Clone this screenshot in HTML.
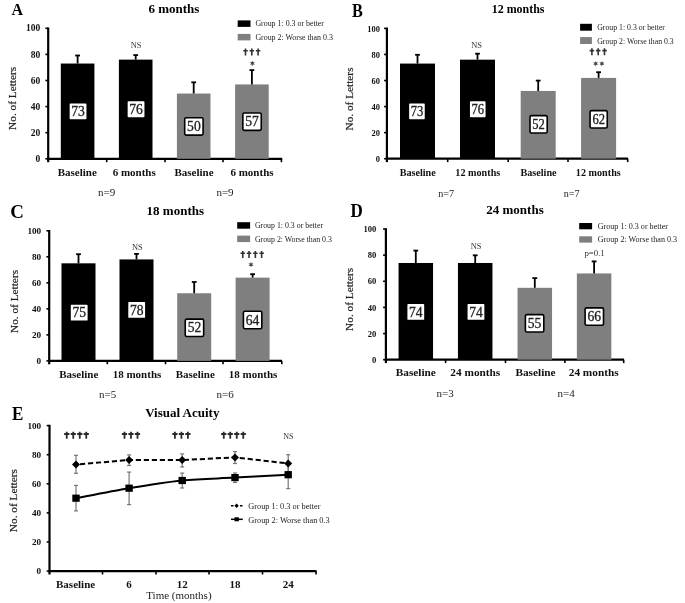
<!DOCTYPE html>
<html><head><meta charset="utf-8"><style>
html,body{margin:0;padding:0;background:#fff;}
svg{display:block;font-family:"Liberation Serif", serif;filter:grayscale(1);}
</style></head><body>
<svg width="685" height="603" viewBox="0 0 685 603">
<rect width="685" height="603" fill="#fff"/>
<text transform="translate(11.40,14.80) scale(0.94,1)" font-size="17" font-weight="bold" text-anchor="start" fill="#000" >A</text>
<text x="173.90" y="13.00" font-size="13" font-weight="bold" text-anchor="middle" fill="#000" >6 months</text>
<rect x="237.70" y="20.40" width="12.80" height="6.50" fill="#000" />
<rect x="237.70" y="33.90" width="12.80" height="6.50" fill="#7f7f7f" />
<text x="255.40" y="26.40" font-size="7.9" font-weight="normal" text-anchor="start" fill="#222" >Group 1: 0.3 or better</text>
<text x="255.40" y="39.90" font-size="7.9" font-weight="normal" text-anchor="start" fill="#222" >Group 2: Worse than 0.3</text>
<line x1="48.20" y1="27.50" x2="48.20" y2="162.20" stroke="#000" stroke-width="2.2" />
<line x1="47.20" y1="158.80" x2="282.20" y2="158.80" stroke="#000" stroke-width="2.2" />
<line x1="45.40" y1="158.80" x2="48.20" y2="158.80" stroke="#000" stroke-width="1.6" />
<text x="40.30" y="161.90" font-size="9.5" font-weight="bold" text-anchor="end" fill="#111" >0</text>
<line x1="45.40" y1="132.70" x2="48.20" y2="132.70" stroke="#000" stroke-width="1.6" />
<text x="40.30" y="135.80" font-size="9.5" font-weight="bold" text-anchor="end" fill="#111" >20</text>
<line x1="45.40" y1="106.60" x2="48.20" y2="106.60" stroke="#000" stroke-width="1.6" />
<text x="40.30" y="109.70" font-size="9.5" font-weight="bold" text-anchor="end" fill="#111" >40</text>
<line x1="45.40" y1="80.50" x2="48.20" y2="80.50" stroke="#000" stroke-width="1.6" />
<text x="40.30" y="83.60" font-size="9.5" font-weight="bold" text-anchor="end" fill="#111" >60</text>
<line x1="45.40" y1="54.40" x2="48.20" y2="54.40" stroke="#000" stroke-width="1.6" />
<text x="40.30" y="57.50" font-size="9.5" font-weight="bold" text-anchor="end" fill="#111" >80</text>
<line x1="45.40" y1="28.30" x2="48.20" y2="28.30" stroke="#000" stroke-width="1.6" />
<text x="40.30" y="31.40" font-size="9.5" font-weight="bold" text-anchor="end" fill="#111" >100</text>
<line x1="106.70" y1="158.80" x2="106.70" y2="162.20" stroke="#000" stroke-width="1.6" />
<line x1="165.00" y1="158.80" x2="165.00" y2="162.20" stroke="#000" stroke-width="1.6" />
<line x1="223.00" y1="158.80" x2="223.00" y2="162.20" stroke="#000" stroke-width="1.6" />
<line x1="281.40" y1="158.80" x2="281.40" y2="162.20" stroke="#000" stroke-width="1.6" />
<text x="16.30" y="98.40" font-size="11.3" font-weight="normal" text-anchor="middle" fill="#222" stroke="#222" stroke-width="0.2" transform="rotate(-90 16.30 98.40)">No. of Letters</text>
<rect x="60.80" y="63.54" width="33.60" height="95.27" fill="#000" />
<line x1="77.60" y1="63.54" x2="77.60" y2="55.50" stroke="#000" stroke-width="1.8" />
<line x1="75.20" y1="55.50" x2="80.00" y2="55.50" stroke="#000" stroke-width="1.8" />
<rect x="118.90" y="59.62" width="33.60" height="99.18" fill="#000" />
<line x1="135.70" y1="59.62" x2="135.70" y2="55.10" stroke="#000" stroke-width="1.8" />
<line x1="133.30" y1="55.10" x2="138.10" y2="55.10" stroke="#000" stroke-width="1.8" />
<rect x="176.90" y="93.55" width="33.60" height="65.25" fill="#7f7f7f" />
<line x1="193.70" y1="93.55" x2="193.70" y2="82.30" stroke="#000" stroke-width="1.8" />
<line x1="191.30" y1="82.30" x2="196.10" y2="82.30" stroke="#000" stroke-width="1.8" />
<rect x="235.10" y="84.42" width="33.60" height="74.38" fill="#7f7f7f" />
<line x1="251.90" y1="84.42" x2="251.90" y2="70.10" stroke="#000" stroke-width="1.8" />
<line x1="249.50" y1="70.10" x2="254.30" y2="70.10" stroke="#000" stroke-width="1.8" />
<rect x="68.85" y="102.70" width="18.40" height="17.40" rx="1.5" fill="#fff" stroke="#000" stroke-width="1.6"/>
<text x="78.05" y="116.00" font-size="13.6" font-weight="normal" text-anchor="middle" fill="#222" stroke="#222" stroke-width="0.3" >73</text>
<rect x="126.85" y="100.55" width="18.40" height="17.40" rx="1.5" fill="#fff" stroke="#000" stroke-width="1.6"/>
<text x="136.05" y="113.85" font-size="13.6" font-weight="normal" text-anchor="middle" fill="#222" stroke="#222" stroke-width="0.3" >76</text>
<rect x="184.70" y="117.70" width="18.40" height="17.40" rx="1.5" fill="#fff" stroke="#000" stroke-width="1.6"/>
<text x="193.90" y="131.00" font-size="13.6" font-weight="normal" text-anchor="middle" fill="#222" stroke="#222" stroke-width="0.3" >50</text>
<rect x="242.85" y="112.95" width="18.40" height="17.40" rx="1.5" fill="#fff" stroke="#000" stroke-width="1.6"/>
<text x="252.05" y="126.25" font-size="13.6" font-weight="normal" text-anchor="middle" fill="#222" stroke="#222" stroke-width="0.3" >57</text>
<text x="77.30" y="176.00" font-size="11" font-weight="bold" text-anchor="middle" fill="#111" >Baseline</text>
<text x="134.20" y="176.00" font-size="11" font-weight="bold" text-anchor="middle" fill="#111" >6 months</text>
<text x="194.00" y="176.00" font-size="11" font-weight="bold" text-anchor="middle" fill="#111" >Baseline</text>
<text x="252.00" y="176.00" font-size="11" font-weight="bold" text-anchor="middle" fill="#111" >6 months</text>
<text x="106.70" y="196.00" font-size="11" font-weight="normal" text-anchor="middle" fill="#222" >n=9</text>
<text x="225.00" y="196.00" font-size="11" font-weight="normal" text-anchor="middle" fill="#222" >n=9</text>
<text x="136.10" y="48.00" font-size="8.4" font-weight="normal" text-anchor="middle" fill="#333" >NS</text>
<path d="M245.50,48.40 L245.50,55.40 M243.25,50.71 L247.75,50.71" stroke="#333" stroke-width="1.6" fill="none"/>
<path d="M251.80,48.40 L251.80,55.40 M249.55,50.71 L254.05,50.71" stroke="#333" stroke-width="1.6" fill="none"/>
<path d="M258.10,48.40 L258.10,55.40 M255.85,50.71 L260.35,50.71" stroke="#333" stroke-width="1.6" fill="none"/>
<polygon points="252.40,60.60 251.77,62.31 249.98,62.00 251.14,63.40 249.98,64.80 251.77,64.49 252.40,66.20 253.03,64.49 254.82,64.80 253.66,63.40 254.82,62.00 253.03,62.31" fill="#444"/>
<text transform="translate(351.90,16.60) scale(0.9,1)" font-size="18" font-weight="bold" text-anchor="start" fill="#000" >B</text>
<text transform="translate(518.10,13.00) scale(0.92,1)" font-size="13" font-weight="bold" text-anchor="middle" fill="#000" >12 months</text>
<rect x="580.10" y="23.80" width="11.80" height="6.90" fill="#000" />
<rect x="580.10" y="37.10" width="11.80" height="6.90" fill="#7f7f7f" />
<text x="597.20" y="30.20" font-size="7.8" font-weight="normal" text-anchor="start" fill="#222" >Group 1: 0.3 or better</text>
<text x="597.20" y="43.50" font-size="7.8" font-weight="normal" text-anchor="start" fill="#222" >Group 2: Worse than 0.3</text>
<line x1="386.90" y1="27.60" x2="386.90" y2="162.10" stroke="#000" stroke-width="2.2" />
<line x1="385.90" y1="158.70" x2="628.00" y2="158.70" stroke="#000" stroke-width="2.2" />
<line x1="384.10" y1="158.70" x2="386.90" y2="158.70" stroke="#000" stroke-width="1.6" />
<text transform="translate(379.90,161.80) scale(0.94,1)" font-size="9" font-weight="bold" text-anchor="end" fill="#111" >0</text>
<line x1="384.10" y1="132.64" x2="386.90" y2="132.64" stroke="#000" stroke-width="1.6" />
<text transform="translate(379.90,135.74) scale(0.94,1)" font-size="9" font-weight="bold" text-anchor="end" fill="#111" >20</text>
<line x1="384.10" y1="106.58" x2="386.90" y2="106.58" stroke="#000" stroke-width="1.6" />
<text transform="translate(379.90,109.68) scale(0.94,1)" font-size="9" font-weight="bold" text-anchor="end" fill="#111" >40</text>
<line x1="384.10" y1="80.52" x2="386.90" y2="80.52" stroke="#000" stroke-width="1.6" />
<text transform="translate(379.90,83.62) scale(0.94,1)" font-size="9" font-weight="bold" text-anchor="end" fill="#111" >60</text>
<line x1="384.10" y1="54.46" x2="386.90" y2="54.46" stroke="#000" stroke-width="1.6" />
<text transform="translate(379.90,57.56) scale(0.94,1)" font-size="9" font-weight="bold" text-anchor="end" fill="#111" >80</text>
<line x1="384.10" y1="28.40" x2="386.90" y2="28.40" stroke="#000" stroke-width="1.6" />
<text transform="translate(379.90,31.50) scale(0.94,1)" font-size="9" font-weight="bold" text-anchor="end" fill="#111" >100</text>
<line x1="447.70" y1="158.70" x2="447.70" y2="162.10" stroke="#000" stroke-width="1.6" />
<line x1="508.20" y1="158.70" x2="508.20" y2="162.10" stroke="#000" stroke-width="1.6" />
<line x1="568.00" y1="158.70" x2="568.00" y2="162.10" stroke="#000" stroke-width="1.6" />
<line x1="627.70" y1="158.70" x2="627.70" y2="162.10" stroke="#000" stroke-width="1.6" />
<text x="353.00" y="99.00" font-size="11.3" font-weight="normal" text-anchor="middle" fill="#222" stroke="#222" stroke-width="0.2" transform="rotate(-90 353.00 99.00)">No. of Letters</text>
<rect x="400.00" y="63.58" width="35.00" height="95.12" fill="#000" />
<line x1="417.50" y1="63.58" x2="417.50" y2="54.80" stroke="#000" stroke-width="1.8" />
<line x1="415.10" y1="54.80" x2="419.90" y2="54.80" stroke="#000" stroke-width="1.8" />
<rect x="460.00" y="59.67" width="35.00" height="99.03" fill="#000" />
<line x1="477.50" y1="59.67" x2="477.50" y2="53.70" stroke="#000" stroke-width="1.8" />
<line x1="475.10" y1="53.70" x2="479.90" y2="53.70" stroke="#000" stroke-width="1.8" />
<rect x="520.70" y="90.94" width="35.00" height="67.76" fill="#7f7f7f" />
<line x1="538.20" y1="90.94" x2="538.20" y2="80.60" stroke="#000" stroke-width="1.8" />
<line x1="535.80" y1="80.60" x2="540.60" y2="80.60" stroke="#000" stroke-width="1.8" />
<rect x="581.10" y="77.91" width="35.00" height="80.79" fill="#7f7f7f" />
<line x1="598.60" y1="77.91" x2="598.60" y2="72.20" stroke="#000" stroke-width="1.8" />
<line x1="596.20" y1="72.20" x2="601.00" y2="72.20" stroke="#000" stroke-width="1.8" />
<rect x="408.35" y="102.60" width="17.20" height="17.40" rx="1.5" fill="#fff" stroke="#000" stroke-width="1.6"/>
<text transform="translate(416.95,115.90) scale(0.925,1)" font-size="13.6" font-weight="normal" text-anchor="middle" fill="#222" stroke="#222" stroke-width="0.3" >73</text>
<rect x="469.15" y="100.55" width="17.20" height="17.40" rx="1.5" fill="#fff" stroke="#000" stroke-width="1.6"/>
<text transform="translate(477.75,113.85) scale(0.925,1)" font-size="13.6" font-weight="normal" text-anchor="middle" fill="#222" stroke="#222" stroke-width="0.3" >76</text>
<rect x="530.00" y="115.65" width="17.20" height="17.40" rx="1.5" fill="#fff" stroke="#000" stroke-width="1.6"/>
<text transform="translate(538.60,128.95) scale(0.925,1)" font-size="13.6" font-weight="normal" text-anchor="middle" fill="#222" stroke="#222" stroke-width="0.3" >52</text>
<rect x="590.05" y="110.65" width="17.20" height="17.40" rx="1.5" fill="#fff" stroke="#000" stroke-width="1.6"/>
<text transform="translate(598.65,123.95) scale(0.925,1)" font-size="13.6" font-weight="normal" text-anchor="middle" fill="#222" stroke="#222" stroke-width="0.3" >62</text>
<text transform="translate(417.70,176.40) scale(0.925,1)" font-size="11" font-weight="bold" text-anchor="middle" fill="#111" >Baseline</text>
<text transform="translate(477.80,176.40) scale(0.925,1)" font-size="11" font-weight="bold" text-anchor="middle" fill="#111" >12 months</text>
<text transform="translate(538.50,176.40) scale(0.925,1)" font-size="11" font-weight="bold" text-anchor="middle" fill="#111" >Baseline</text>
<text transform="translate(598.30,176.40) scale(0.925,1)" font-size="11" font-weight="bold" text-anchor="middle" fill="#111" >12 months</text>
<text transform="translate(446.10,197.20) scale(0.925,1)" font-size="11" font-weight="normal" text-anchor="middle" fill="#222" >n=7</text>
<text transform="translate(571.60,197.20) scale(0.925,1)" font-size="11" font-weight="normal" text-anchor="middle" fill="#222" >n=7</text>
<text x="476.60" y="48.40" font-size="8.4" font-weight="normal" text-anchor="middle" fill="#333" >NS</text>
<path d="M591.90,48.30 L591.90,55.30 M589.65,50.61 L594.15,50.61" stroke="#333" stroke-width="1.6" fill="none"/>
<path d="M598.20,48.30 L598.20,55.30 M595.95,50.61 L600.45,50.61" stroke="#333" stroke-width="1.6" fill="none"/>
<path d="M604.50,48.30 L604.50,55.30 M602.25,50.61 L606.75,50.61" stroke="#333" stroke-width="1.6" fill="none"/>
<polygon points="595.70,60.90 595.07,62.61 593.28,62.30 594.44,63.70 593.28,65.10 595.07,64.79 595.70,66.50 596.33,64.79 598.12,65.10 596.96,63.70 598.12,62.30 596.33,62.61" fill="#444"/>
<polygon points="601.90,60.90 601.27,62.61 599.48,62.30 600.64,63.70 599.48,65.10 601.27,64.79 601.90,66.50 602.53,64.79 604.32,65.10 603.16,63.70 604.32,62.30 602.53,62.61" fill="#444"/>
<text transform="translate(10.20,217.90) scale(1.02,1)" font-size="18.5" font-weight="bold" text-anchor="start" fill="#000" >C</text>
<text x="175.30" y="215.30" font-size="13" font-weight="bold" text-anchor="middle" fill="#000" >18 months</text>
<rect x="237.20" y="222.20" width="12.90" height="6.50" fill="#000" />
<rect x="237.20" y="235.60" width="12.90" height="6.50" fill="#7f7f7f" />
<text x="254.90" y="228.20" font-size="7.85" font-weight="normal" text-anchor="start" fill="#222" >Group 1: 0.3 or better</text>
<text x="254.90" y="241.60" font-size="7.85" font-weight="normal" text-anchor="start" fill="#222" >Group 2: Worse than 0.3</text>
<line x1="49.20" y1="230.00" x2="49.20" y2="364.30" stroke="#000" stroke-width="2.2" />
<line x1="48.20" y1="360.90" x2="282.00" y2="360.90" stroke="#000" stroke-width="2.2" />
<line x1="46.40" y1="360.90" x2="49.20" y2="360.90" stroke="#000" stroke-width="1.6" />
<text x="41.20" y="364.00" font-size="9.2" font-weight="bold" text-anchor="end" fill="#111" >0</text>
<line x1="46.40" y1="334.88" x2="49.20" y2="334.88" stroke="#000" stroke-width="1.6" />
<text x="41.20" y="337.98" font-size="9.2" font-weight="bold" text-anchor="end" fill="#111" >20</text>
<line x1="46.40" y1="308.86" x2="49.20" y2="308.86" stroke="#000" stroke-width="1.6" />
<text x="41.20" y="311.96" font-size="9.2" font-weight="bold" text-anchor="end" fill="#111" >40</text>
<line x1="46.40" y1="282.84" x2="49.20" y2="282.84" stroke="#000" stroke-width="1.6" />
<text x="41.20" y="285.94" font-size="9.2" font-weight="bold" text-anchor="end" fill="#111" >60</text>
<line x1="46.40" y1="256.82" x2="49.20" y2="256.82" stroke="#000" stroke-width="1.6" />
<text x="41.20" y="259.92" font-size="9.2" font-weight="bold" text-anchor="end" fill="#111" >80</text>
<line x1="46.40" y1="230.80" x2="49.20" y2="230.80" stroke="#000" stroke-width="1.6" />
<text x="41.20" y="233.90" font-size="9.2" font-weight="bold" text-anchor="end" fill="#111" >100</text>
<line x1="107.30" y1="360.90" x2="107.30" y2="364.30" stroke="#000" stroke-width="1.6" />
<line x1="165.50" y1="360.90" x2="165.50" y2="364.30" stroke="#000" stroke-width="1.6" />
<line x1="223.00" y1="360.90" x2="223.00" y2="364.30" stroke="#000" stroke-width="1.6" />
<line x1="281.80" y1="360.90" x2="281.80" y2="364.30" stroke="#000" stroke-width="1.6" />
<text x="17.80" y="301.50" font-size="11.3" font-weight="normal" text-anchor="middle" fill="#222" stroke="#222" stroke-width="0.2" transform="rotate(-90 17.80 301.50)">No. of Letters</text>
<rect x="61.50" y="263.32" width="34.00" height="97.57" fill="#000" />
<line x1="78.50" y1="263.32" x2="78.50" y2="254.20" stroke="#000" stroke-width="1.8" />
<line x1="76.10" y1="254.20" x2="80.90" y2="254.20" stroke="#000" stroke-width="1.8" />
<rect x="119.50" y="259.42" width="34.00" height="101.48" fill="#000" />
<line x1="136.50" y1="259.42" x2="136.50" y2="253.90" stroke="#000" stroke-width="1.8" />
<line x1="134.10" y1="253.90" x2="138.90" y2="253.90" stroke="#000" stroke-width="1.8" />
<rect x="177.20" y="293.25" width="34.00" height="67.65" fill="#7f7f7f" />
<line x1="194.20" y1="293.25" x2="194.20" y2="282.00" stroke="#000" stroke-width="1.8" />
<line x1="191.80" y1="282.00" x2="196.60" y2="282.00" stroke="#000" stroke-width="1.8" />
<rect x="235.60" y="277.64" width="34.00" height="83.26" fill="#7f7f7f" />
<line x1="252.60" y1="277.64" x2="252.60" y2="274.20" stroke="#000" stroke-width="1.8" />
<line x1="250.20" y1="274.20" x2="255.00" y2="274.20" stroke="#000" stroke-width="1.8" />
<rect x="70.00" y="304.00" width="18.40" height="17.40" rx="1.5" fill="#fff" stroke="#000" stroke-width="1.6"/>
<text x="79.20" y="317.30" font-size="13.6" font-weight="normal" text-anchor="middle" fill="#222" stroke="#222" stroke-width="0.3" >75</text>
<rect x="127.50" y="301.25" width="18.40" height="17.40" rx="1.5" fill="#fff" stroke="#000" stroke-width="1.6"/>
<text x="136.70" y="314.55" font-size="13.6" font-weight="normal" text-anchor="middle" fill="#222" stroke="#222" stroke-width="0.3" >78</text>
<rect x="185.25" y="319.15" width="18.40" height="17.40" rx="1.5" fill="#fff" stroke="#000" stroke-width="1.6"/>
<text x="194.45" y="332.45" font-size="13.6" font-weight="normal" text-anchor="middle" fill="#222" stroke="#222" stroke-width="0.3" >52</text>
<rect x="243.40" y="311.30" width="18.40" height="17.40" rx="1.5" fill="#fff" stroke="#000" stroke-width="1.6"/>
<text x="252.60" y="324.60" font-size="13.6" font-weight="normal" text-anchor="middle" fill="#222" stroke="#222" stroke-width="0.3" >64</text>
<text x="78.80" y="378.10" font-size="11" font-weight="bold" text-anchor="middle" fill="#111" >Baseline</text>
<text x="137.00" y="378.10" font-size="11" font-weight="bold" text-anchor="middle" fill="#111" >18 months</text>
<text x="195.30" y="378.10" font-size="11" font-weight="bold" text-anchor="middle" fill="#111" >Baseline</text>
<text x="253.10" y="378.10" font-size="11" font-weight="bold" text-anchor="middle" fill="#111" >18 months</text>
<text x="107.60" y="398.40" font-size="11" font-weight="normal" text-anchor="middle" fill="#222" >n=5</text>
<text x="225.20" y="398.40" font-size="11" font-weight="normal" text-anchor="middle" fill="#222" >n=6</text>
<text x="137.30" y="250.20" font-size="8.4" font-weight="normal" text-anchor="middle" fill="#333" >NS</text>
<path d="M242.75,251.00 L242.75,258.00 M240.50,253.31 L245.00,253.31" stroke="#333" stroke-width="1.6" fill="none"/>
<path d="M249.05,251.00 L249.05,258.00 M246.80,253.31 L251.30,253.31" stroke="#333" stroke-width="1.6" fill="none"/>
<path d="M255.35,251.00 L255.35,258.00 M253.10,253.31 L257.60,253.31" stroke="#333" stroke-width="1.6" fill="none"/>
<path d="M261.65,251.00 L261.65,258.00 M259.40,253.31 L263.90,253.31" stroke="#333" stroke-width="1.6" fill="none"/>
<polygon points="251.00,261.80 250.37,263.51 248.58,263.20 249.74,264.60 248.58,266.00 250.37,265.69 251.00,267.40 251.63,265.69 253.42,266.00 252.26,264.60 253.42,263.20 251.63,263.51" fill="#444"/>
<text transform="translate(350.60,216.50) scale(0.95,1)" font-size="18" font-weight="bold" text-anchor="start" fill="#000" >D</text>
<text x="515.00" y="213.80" font-size="13" font-weight="bold" text-anchor="middle" fill="#000" >24 months</text>
<rect x="579.20" y="223.00" width="12.90" height="6.30" fill="#000" />
<rect x="579.20" y="236.30" width="12.90" height="6.30" fill="#7f7f7f" />
<text x="597.70" y="228.80" font-size="8.1" font-weight="normal" text-anchor="start" fill="#222" >Group 1: 0.3 or better</text>
<text x="597.70" y="242.10" font-size="8.1" font-weight="normal" text-anchor="start" fill="#222" >Group 2: Worse than 0.3</text>
<line x1="385.90" y1="228.20" x2="385.90" y2="363.10" stroke="#000" stroke-width="2.2" />
<line x1="384.90" y1="359.70" x2="624.00" y2="359.70" stroke="#000" stroke-width="2.2" />
<line x1="383.10" y1="359.70" x2="385.90" y2="359.70" stroke="#000" stroke-width="1.6" />
<text x="376.30" y="362.80" font-size="8.6" font-weight="bold" text-anchor="end" fill="#111" >0</text>
<line x1="383.10" y1="333.56" x2="385.90" y2="333.56" stroke="#000" stroke-width="1.6" />
<text x="376.30" y="336.66" font-size="8.6" font-weight="bold" text-anchor="end" fill="#111" >20</text>
<line x1="383.10" y1="307.42" x2="385.90" y2="307.42" stroke="#000" stroke-width="1.6" />
<text x="376.30" y="310.52" font-size="8.6" font-weight="bold" text-anchor="end" fill="#111" >40</text>
<line x1="383.10" y1="281.28" x2="385.90" y2="281.28" stroke="#000" stroke-width="1.6" />
<text x="376.30" y="284.38" font-size="8.6" font-weight="bold" text-anchor="end" fill="#111" >60</text>
<line x1="383.10" y1="255.14" x2="385.90" y2="255.14" stroke="#000" stroke-width="1.6" />
<text x="376.30" y="258.24" font-size="8.6" font-weight="bold" text-anchor="end" fill="#111" >80</text>
<line x1="383.10" y1="229.00" x2="385.90" y2="229.00" stroke="#000" stroke-width="1.6" />
<text x="376.30" y="232.10" font-size="8.6" font-weight="bold" text-anchor="end" fill="#111" >100</text>
<line x1="445.60" y1="359.70" x2="445.60" y2="363.10" stroke="#000" stroke-width="1.6" />
<line x1="505.50" y1="359.70" x2="505.50" y2="363.10" stroke="#000" stroke-width="1.6" />
<line x1="564.90" y1="359.70" x2="564.90" y2="363.10" stroke="#000" stroke-width="1.6" />
<line x1="623.70" y1="359.70" x2="623.70" y2="363.10" stroke="#000" stroke-width="1.6" />
<text x="353.50" y="299.40" font-size="11.3" font-weight="normal" text-anchor="middle" fill="#222" stroke="#222" stroke-width="0.2" transform="rotate(-90 353.50 299.40)">No. of Letters</text>
<rect x="398.55" y="262.98" width="34.50" height="96.72" fill="#000" />
<line x1="415.80" y1="262.98" x2="415.80" y2="250.60" stroke="#000" stroke-width="1.8" />
<line x1="413.40" y1="250.60" x2="418.20" y2="250.60" stroke="#000" stroke-width="1.8" />
<rect x="457.95" y="262.98" width="34.50" height="96.72" fill="#000" />
<line x1="475.20" y1="262.98" x2="475.20" y2="255.30" stroke="#000" stroke-width="1.8" />
<line x1="472.80" y1="255.30" x2="477.60" y2="255.30" stroke="#000" stroke-width="1.8" />
<rect x="517.55" y="287.81" width="34.50" height="71.88" fill="#7f7f7f" />
<line x1="534.80" y1="287.81" x2="534.80" y2="278.10" stroke="#000" stroke-width="1.8" />
<line x1="532.40" y1="278.10" x2="537.20" y2="278.10" stroke="#000" stroke-width="1.8" />
<rect x="576.85" y="273.44" width="34.50" height="86.26" fill="#7f7f7f" />
<line x1="594.10" y1="273.44" x2="594.10" y2="261.40" stroke="#000" stroke-width="1.8" />
<line x1="591.70" y1="261.40" x2="596.50" y2="261.40" stroke="#000" stroke-width="1.8" />
<rect x="406.60" y="303.25" width="18.40" height="17.40" rx="1.5" fill="#fff" stroke="#000" stroke-width="1.6"/>
<text x="415.80" y="316.55" font-size="13.6" font-weight="normal" text-anchor="middle" fill="#222" stroke="#222" stroke-width="0.3" >74</text>
<rect x="466.75" y="303.25" width="18.40" height="17.40" rx="1.5" fill="#fff" stroke="#000" stroke-width="1.6"/>
<text x="475.95" y="316.55" font-size="13.6" font-weight="normal" text-anchor="middle" fill="#222" stroke="#222" stroke-width="0.3" >74</text>
<rect x="525.40" y="314.65" width="18.40" height="17.40" rx="1.5" fill="#fff" stroke="#000" stroke-width="1.6"/>
<text x="534.60" y="327.95" font-size="13.6" font-weight="normal" text-anchor="middle" fill="#222" stroke="#222" stroke-width="0.3" >55</text>
<rect x="585.10" y="307.85" width="18.40" height="17.40" rx="1.5" fill="#fff" stroke="#000" stroke-width="1.6"/>
<text x="594.30" y="321.15" font-size="13.6" font-weight="normal" text-anchor="middle" fill="#222" stroke="#222" stroke-width="0.3" >66</text>
<text x="415.80" y="376.10" font-size="11.3" font-weight="bold" text-anchor="middle" fill="#111" >Baseline</text>
<text x="475.30" y="376.10" font-size="11.3" font-weight="bold" text-anchor="middle" fill="#111" >24 months</text>
<text x="535.50" y="376.10" font-size="11.3" font-weight="bold" text-anchor="middle" fill="#111" >Baseline</text>
<text x="593.70" y="376.10" font-size="11.3" font-weight="bold" text-anchor="middle" fill="#111" >24 months</text>
<text x="445.10" y="397.00" font-size="11" font-weight="normal" text-anchor="middle" fill="#222" >n=3</text>
<text x="566.10" y="397.00" font-size="11" font-weight="normal" text-anchor="middle" fill="#222" >n=4</text>
<text x="476.00" y="248.60" font-size="8.4" font-weight="normal" text-anchor="middle" fill="#333" >NS</text>
<text x="594.60" y="256.30" font-size="8.8" font-weight="normal" text-anchor="middle" fill="#333" >p=0.1</text>
<text transform="translate(11.90,419.50) scale(0.93,1)" font-size="18.4" font-weight="bold" text-anchor="start" fill="#000" >E</text>
<text x="182.30" y="417.40" font-size="13" font-weight="bold" text-anchor="middle" fill="#000" >Visual Acuity</text>
<line x1="49.50" y1="424.80" x2="49.50" y2="574.50" stroke="#000" stroke-width="2.2" />
<line x1="48.50" y1="571.10" x2="316.50" y2="571.10" stroke="#000" stroke-width="2.2" />
<line x1="46.70" y1="571.10" x2="49.50" y2="571.10" stroke="#000" stroke-width="1.6" />
<text x="41.20" y="574.20" font-size="9.2" font-weight="bold" text-anchor="end" fill="#111" >0</text>
<line x1="46.70" y1="542.00" x2="49.50" y2="542.00" stroke="#000" stroke-width="1.6" />
<text x="41.20" y="545.10" font-size="9.2" font-weight="bold" text-anchor="end" fill="#111" >20</text>
<line x1="46.70" y1="512.90" x2="49.50" y2="512.90" stroke="#000" stroke-width="1.6" />
<text x="41.20" y="516.00" font-size="9.2" font-weight="bold" text-anchor="end" fill="#111" >40</text>
<line x1="46.70" y1="483.80" x2="49.50" y2="483.80" stroke="#000" stroke-width="1.6" />
<text x="41.20" y="486.90" font-size="9.2" font-weight="bold" text-anchor="end" fill="#111" >60</text>
<line x1="46.70" y1="454.70" x2="49.50" y2="454.70" stroke="#000" stroke-width="1.6" />
<text x="41.20" y="457.80" font-size="9.2" font-weight="bold" text-anchor="end" fill="#111" >80</text>
<line x1="46.70" y1="425.60" x2="49.50" y2="425.60" stroke="#000" stroke-width="1.6" />
<text x="41.20" y="428.70" font-size="9.2" font-weight="bold" text-anchor="end" fill="#111" >100</text>
<line x1="102.50" y1="571.10" x2="102.50" y2="574.50" stroke="#000" stroke-width="1.6" />
<line x1="156.00" y1="571.10" x2="156.00" y2="574.50" stroke="#000" stroke-width="1.6" />
<line x1="209.00" y1="571.10" x2="209.00" y2="574.50" stroke="#000" stroke-width="1.6" />
<line x1="262.50" y1="571.10" x2="262.50" y2="574.50" stroke="#000" stroke-width="1.6" />
<line x1="316.00" y1="571.10" x2="316.00" y2="574.50" stroke="#000" stroke-width="1.6" />
<text x="17.50" y="500.60" font-size="11.3" font-weight="normal" text-anchor="middle" fill="#222" stroke="#222" stroke-width="0.2" transform="rotate(-90 17.5 500.6)">No. of Letters</text>
<line x1="76.00" y1="455.30" x2="76.00" y2="473.30" stroke="#777" stroke-width="1.2" />
<line x1="74.00" y1="455.30" x2="78.00" y2="455.30" stroke="#777" stroke-width="1.2" />
<line x1="74.00" y1="473.30" x2="78.00" y2="473.30" stroke="#777" stroke-width="1.2" />
<line x1="129.10" y1="454.90" x2="129.10" y2="465.50" stroke="#777" stroke-width="1.2" />
<line x1="127.10" y1="454.90" x2="131.10" y2="454.90" stroke="#777" stroke-width="1.2" />
<line x1="127.10" y1="465.50" x2="131.10" y2="465.50" stroke="#777" stroke-width="1.2" />
<line x1="182.20" y1="453.90" x2="182.20" y2="467.00" stroke="#777" stroke-width="1.2" />
<line x1="180.20" y1="453.90" x2="184.20" y2="453.90" stroke="#777" stroke-width="1.2" />
<line x1="180.20" y1="467.00" x2="184.20" y2="467.00" stroke="#777" stroke-width="1.2" />
<line x1="235.00" y1="451.60" x2="235.00" y2="463.50" stroke="#777" stroke-width="1.2" />
<line x1="233.00" y1="451.60" x2="237.00" y2="451.60" stroke="#777" stroke-width="1.2" />
<line x1="233.00" y1="463.50" x2="237.00" y2="463.50" stroke="#777" stroke-width="1.2" />
<line x1="288.20" y1="454.70" x2="288.20" y2="472.00" stroke="#777" stroke-width="1.2" />
<line x1="286.20" y1="454.70" x2="290.20" y2="454.70" stroke="#777" stroke-width="1.2" />
<line x1="286.20" y1="472.00" x2="290.20" y2="472.00" stroke="#777" stroke-width="1.2" />
<line x1="76.00" y1="485.40" x2="76.00" y2="510.90" stroke="#777" stroke-width="1.2" />
<line x1="74.00" y1="485.40" x2="78.00" y2="485.40" stroke="#777" stroke-width="1.2" />
<line x1="74.00" y1="510.90" x2="78.00" y2="510.90" stroke="#777" stroke-width="1.2" />
<line x1="129.10" y1="472.10" x2="129.10" y2="504.60" stroke="#777" stroke-width="1.2" />
<line x1="127.10" y1="472.10" x2="131.10" y2="472.10" stroke="#777" stroke-width="1.2" />
<line x1="127.10" y1="504.60" x2="131.10" y2="504.60" stroke="#777" stroke-width="1.2" />
<line x1="182.20" y1="473.10" x2="182.20" y2="488.00" stroke="#777" stroke-width="1.2" />
<line x1="180.20" y1="473.10" x2="184.20" y2="473.10" stroke="#777" stroke-width="1.2" />
<line x1="180.20" y1="488.00" x2="184.20" y2="488.00" stroke="#777" stroke-width="1.2" />
<line x1="235.00" y1="473.00" x2="235.00" y2="482.50" stroke="#777" stroke-width="1.2" />
<line x1="233.00" y1="473.00" x2="237.00" y2="473.00" stroke="#777" stroke-width="1.2" />
<line x1="233.00" y1="482.50" x2="237.00" y2="482.50" stroke="#777" stroke-width="1.2" />
<line x1="288.20" y1="462.00" x2="288.20" y2="488.60" stroke="#777" stroke-width="1.2" />
<line x1="286.20" y1="462.00" x2="290.20" y2="462.00" stroke="#777" stroke-width="1.2" />
<line x1="286.20" y1="488.60" x2="290.20" y2="488.60" stroke="#777" stroke-width="1.2" />
<polyline points="76.0,464.5 129.1,460.0 182.2,460.0 235.0,457.4 288.2,463.5" fill="none" stroke="#000" stroke-width="2" stroke-dasharray="5.2,2.8" stroke-dashoffset="-4"/>
<path d="M76.00,498.20 C84.85,496.53 111.40,491.15 129.10,488.20 C146.80,485.25 164.55,482.27 182.20,480.50 C199.85,478.73 217.33,478.57 235.00,477.60 C252.67,476.63 279.33,475.18 288.20,474.70" fill="none" stroke="#000" stroke-width="2"/>
<path d="M76.00,460.50 L80.00,464.50 L76.00,468.50 L72.00,464.50Z" fill="#000"/>
<path d="M129.10,456.00 L133.10,460.00 L129.10,464.00 L125.10,460.00Z" fill="#000"/>
<path d="M182.20,456.00 L186.20,460.00 L182.20,464.00 L178.20,460.00Z" fill="#000"/>
<path d="M235.00,453.40 L239.00,457.40 L235.00,461.40 L231.00,457.40Z" fill="#000"/>
<path d="M288.20,459.50 L292.20,463.50 L288.20,467.50 L284.20,463.50Z" fill="#000"/>
<rect x="72.30" y="494.60" width="7.40" height="7.20" fill="#000" />
<rect x="125.40" y="484.60" width="7.40" height="7.20" fill="#000" />
<rect x="178.50" y="476.90" width="7.40" height="7.20" fill="#000" />
<rect x="231.30" y="474.00" width="7.40" height="7.20" fill="#000" />
<rect x="284.50" y="471.10" width="7.40" height="7.20" fill="#000" />
<path d="M66.75,431.70 L66.75,438.70 M64.15,434.01 L69.35,434.01" stroke="#2a2a2a" stroke-width="1.8" fill="none"/>
<path d="M73.25,431.70 L73.25,438.70 M70.65,434.01 L75.85,434.01" stroke="#2a2a2a" stroke-width="1.8" fill="none"/>
<path d="M79.75,431.70 L79.75,438.70 M77.15,434.01 L82.35,434.01" stroke="#2a2a2a" stroke-width="1.8" fill="none"/>
<path d="M86.25,431.70 L86.25,438.70 M83.65,434.01 L88.85,434.01" stroke="#2a2a2a" stroke-width="1.8" fill="none"/>
<path d="M124.50,431.70 L124.50,438.70 M121.90,434.01 L127.10,434.01" stroke="#2a2a2a" stroke-width="1.8" fill="none"/>
<path d="M131.00,431.70 L131.00,438.70 M128.40,434.01 L133.60,434.01" stroke="#2a2a2a" stroke-width="1.8" fill="none"/>
<path d="M137.50,431.70 L137.50,438.70 M134.90,434.01 L140.10,434.01" stroke="#2a2a2a" stroke-width="1.8" fill="none"/>
<path d="M174.90,431.70 L174.90,438.70 M172.30,434.01 L177.50,434.01" stroke="#2a2a2a" stroke-width="1.8" fill="none"/>
<path d="M181.40,431.70 L181.40,438.70 M178.80,434.01 L184.00,434.01" stroke="#2a2a2a" stroke-width="1.8" fill="none"/>
<path d="M187.90,431.70 L187.90,438.70 M185.30,434.01 L190.50,434.01" stroke="#2a2a2a" stroke-width="1.8" fill="none"/>
<path d="M223.75,431.70 L223.75,438.70 M221.15,434.01 L226.35,434.01" stroke="#2a2a2a" stroke-width="1.8" fill="none"/>
<path d="M230.25,431.70 L230.25,438.70 M227.65,434.01 L232.85,434.01" stroke="#2a2a2a" stroke-width="1.8" fill="none"/>
<path d="M236.75,431.70 L236.75,438.70 M234.15,434.01 L239.35,434.01" stroke="#2a2a2a" stroke-width="1.8" fill="none"/>
<path d="M243.25,431.70 L243.25,438.70 M240.65,434.01 L245.85,434.01" stroke="#2a2a2a" stroke-width="1.8" fill="none"/>
<text x="288.40" y="439.20" font-size="8" font-weight="normal" text-anchor="middle" fill="#333" >NS</text>
<text x="75.60" y="587.80" font-size="11" font-weight="bold" text-anchor="middle" fill="#111" >Baseline</text>
<text x="129.10" y="588.20" font-size="11" font-weight="bold" text-anchor="middle" fill="#111" >6</text>
<text x="182.20" y="588.20" font-size="11" font-weight="bold" text-anchor="middle" fill="#111" >12</text>
<text x="235.00" y="588.20" font-size="11" font-weight="bold" text-anchor="middle" fill="#111" >18</text>
<text x="288.20" y="588.20" font-size="11" font-weight="bold" text-anchor="middle" fill="#111" >24</text>
<text x="178.90" y="599.20" font-size="11" font-weight="normal" text-anchor="middle" fill="#222" >Time (months)</text>
<line x1="231" y1="505.8" x2="242.8" y2="505.8" stroke="#000" stroke-width="1.5" stroke-dasharray="2.5,2"/>
<path d="M236.6,503.6 L238.8,505.8 L236.6,508.0 L234.4,505.8Z" fill="#000"/>
<line x1="231.00" y1="519.30" x2="242.80" y2="519.30" stroke="#000" stroke-width="1.5" />
<rect x="234.50" y="517.30" width="4.40" height="4.00" fill="#000" />
<text x="248.30" y="509.20" font-size="8.3" font-weight="normal" text-anchor="start" fill="#222" >Group 1: 0.3 or better</text>
<text x="248.30" y="522.60" font-size="8.3" font-weight="normal" text-anchor="start" fill="#222" >Group 2: Worse than 0.3</text>
</svg></body></html>
